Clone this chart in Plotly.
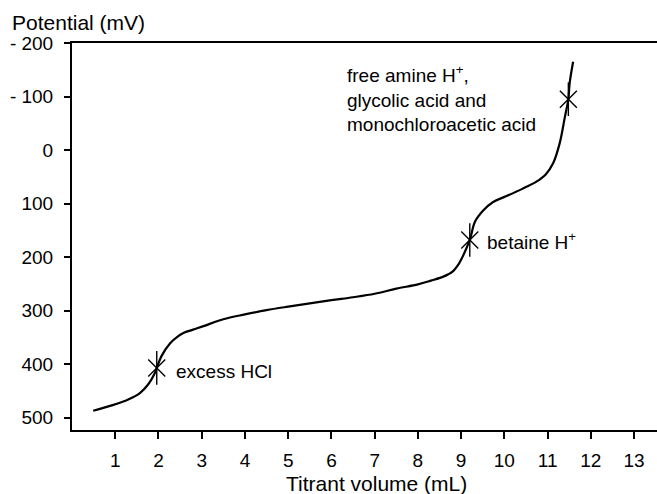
import plotly.graph_objects as go

# Titration curve (Titrant volume in mL vs potential in mV)
volume = [0.49, 0.92, 1.30, 1.57, 1.76, 1.92, 1.96, 2.07, 2.27, 2.45, 2.6, 2.8, 3.04, 3.5, 4.0,
          4.5, 5.0, 5.5, 6.0, 6.5, 7.0, 7.5, 8.0, 8.3, 8.6, 8.8, 8.95, 9.03, 9.2, 9.32,
          9.51, 9.74, 10.05, 10.4, 10.74, 10.95, 11.13, 11.28, 11.4, 11.48, 11.51, 11.59]
potential = [487, 477, 466, 454, 438, 416, 407, 385, 361, 348, 341, 335.5, 329, 316, 307,
             299, 292.5, 286.5, 280.5, 275, 268.5, 259, 251, 244, 236, 227, 212, 200, 168, 134,
             113, 97, 86, 73, 59, 46, 24, -13, -62, -95, -125, -165]

# Equivalence points
eq_volume = [1.96, 9.2, 11.48]
eq_potential = [407, 168, -95]

x_ticks = [1, 2, 3, 4, 5, 6, 7, 8, 9, 10, 11, 12, 13]
y_ticks = [-200, -100, 0, 100, 200, 300, 400, 500]
y_ticktext = ["- 200", "- 100", "0", "100", "200", "300", "400", "500"]

labels = ["excess HCl", "betaine H<sup>+</sup>",
          "free amine H<sup>+</sup>,<br>glycolic acid and<br>monochloroacetic acid"]
label_x = [2.36, 9.55, 6.31]
label_y = [414, 169, -95.5]

FONT = "Liberation Sans, Arial, Helvetica, sans-serif"

fig = go.Figure()
fig.add_trace(go.Scatter(x=volume, y=potential, mode="lines",
                         line=dict(color="black", width=2.2, shape="spline", smoothing=1.0),
                         hoverinfo="skip", showlegend=False))
fig.add_trace(go.Scatter(x=eq_volume, y=eq_potential, mode="markers",
                         marker=dict(symbol="x-thin-open", size=17, color="black",
                                     line=dict(color="black", width=1.4)),
                         showlegend=False))
fig.add_trace(go.Scatter(x=eq_volume, y=eq_potential, mode="markers",
                         marker=dict(symbol="line-ns-open", size=24, color="black",
                                     line=dict(color="black", width=1.4)),
                         showlegend=False))

for t, xx, yy in zip(labels, label_x, label_y):
    fig.add_annotation(x=xx, y=yy, text=t, showarrow=False, xanchor="left", yanchor="middle",
                       align="left", font=dict(family=FONT, size=19, color="black"))

fig.add_annotation(xref="paper", yref="paper", x=-0.106, y=1.054, text="Potential (mV)",
                   showarrow=False, xanchor="left", yanchor="middle",
                   font=dict(family=FONT, size=21, color="black"))
fig.add_annotation(xref="paper", yref="paper", x=0.521, y=-0.138, text="Titrant volume (mL)",
                   showarrow=False, xanchor="center", yanchor="middle",
                   font=dict(family=FONT, size=21, color="black"))

fig.update_layout(
    width=657, height=494,
    margin=dict(l=72, r=0, t=43, b=64),
    plot_bgcolor="white", paper_bgcolor="white",
    font=dict(family=FONT, size=19, color="black"),
    xaxis=dict(range=[0, 13.53], tickvals=x_ticks, ticks="outside", ticklen=7, tickwidth=1.5,
               tickcolor="black", showline=True, linecolor="black", linewidth=2, mirror=True,
               showgrid=False, zeroline=False, ticklabelstandoff=5,
               tickfont=dict(family=FONT, size=19, color="black")),
    yaxis=dict(range=[523, -200], tickvals=y_ticks, ticktext=y_ticktext, ticks="outside",
               ticklen=6, tickwidth=1.5, tickcolor="black", showline=True, linecolor="black",
               linewidth=2, showgrid=False, zeroline=False, ticklabelstandoff=7,
               tickfont=dict(family=FONT, size=19, color="black")),
)

fig.write_html("out.html", config={"displayModeBar": False},
               post_script="document.body.style.margin='0';")
